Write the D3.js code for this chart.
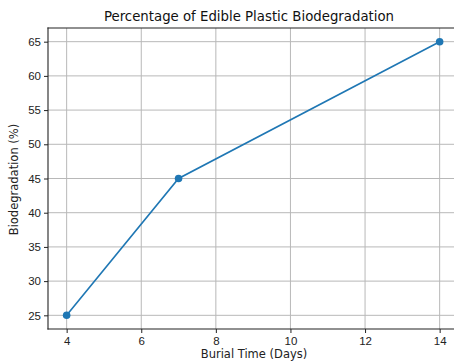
<!DOCTYPE html>
<html>
<head>
<meta charset="utf-8">
<script src="https://cdn.jsdelivr.net/npm/d3@7"></script>
<style>
  body { margin: 0; background: #fff; }
  svg { display: block; font-family: "DejaVu Sans", sans-serif; }
  .tick text { font-size: 11.5px; fill: #222; }
  .title { font-size: 13.3px; fill: #111; }
  .axis-title { font-size: 11.5px; fill: #222; }
</style>
</head>
<body>
<svg id="chart" width="454" height="363"></svg>
<script>
// data
const days = [4, 7, 14];
const biodeg = [25, 45, 65];
const xTicks = [4, 6, 8, 10, 12, 14];
const yTicks = [25, 30, 35, 40, 45, 50, 55, 60, 65];

const width = 454, height = 363;
const padding = { left: 48, top: 28, bottom: 34 };
// plot runs past the right edge, as in the cropped original
const innerWidth = 410.3;
const innerHeight = height - padding.top - padding.bottom;
const visibleRight = width - padding.left; // where the picture is cut

const svg = d3.select("#chart");
const g = svg.append("g")
    .attr("transform", `translate(${padding.left},${padding.top})`);

const x = d3.scaleLinear().domain([3.5, 14.5]).range([0, innerWidth]);
const y = d3.scaleLinear().domain([23, 67]).range([innerHeight, 0]);

// grid
g.append("g").selectAll("line").data(xTicks).enter().append("line")
    .attr("x1", d => x(d)).attr("x2", d => x(d))
    .attr("y1", 0).attr("y2", innerHeight)
    .attr("stroke", "#b8b8b8").attr("stroke-width", 1);
g.append("g").selectAll("line").data(yTicks).enter().append("line")
    .attr("y1", d => y(d)).attr("y2", d => y(d))
    .attr("x1", 0).attr("x2", visibleRight)
    .attr("stroke", "#b8b8b8").attr("stroke-width", 1);

// axes
const xAxis = d3.axisBottom(x).tickValues(xTicks).tickSize(4).tickPadding(4);
const yAxis = d3.axisLeft(y).tickValues(yTicks).tickSize(4).tickPadding(3);

const gx = g.append("g").attr("transform", `translate(0,${innerHeight})`).call(xAxis);
const gy = g.append("g").call(yAxis);
[gx, gy].forEach(a => {
    a.select(".domain").remove();
    a.selectAll(".tick line").attr("stroke", "#222");
    a.selectAll(".tick text").attr("font-family", null).attr("font-size", null);
});

// frame (left, top, bottom; right side is off the picture)
const frame = [
    [0, 0, 0, innerHeight],
    [0, 0, visibleRight, 0],
    [0, innerHeight, visibleRight, innerHeight]
];
g.append("g").selectAll("line").data(frame).enter().append("line")
    .attr("x1", d => d[0]).attr("y1", d => d[1])
    .attr("x2", d => d[2]).attr("y2", d => d[3])
    .attr("stroke", "#222").attr("stroke-width", 1.1)
    .attr("stroke-linecap", "square");

// series
const pts = days.map((d, i) => ({ x: d, y: biodeg[i] }));
g.append("path")
    .datum(pts)
    .attr("fill", "none")
    .attr("stroke", "#1f77b4")
    .attr("stroke-width", 1.6)
    .attr("d", d3.line().x(d => x(d.x)).y(d => y(d.y)));
g.selectAll(".pt").data(pts).enter().append("circle")
    .attr("class", "pt")
    .attr("cx", d => x(d.x)).attr("cy", d => y(d.y))
    .attr("r", 3.8)
    .attr("fill", "#1f77b4");

// titles
svg.append("text")
    .attr("class", "title")
    .attr("x", 249).attr("y", 21)
    .attr("text-anchor", "middle")
    .text("Percentage of Edible Plastic Biodegradation");

svg.append("text")
    .attr("class", "axis-title")
    .attr("x", 254).attr("y", 358)
    .attr("text-anchor", "middle")
    .text("Burial Time (Days)");

svg.append("text")
    .attr("class", "axis-title")
    .attr("transform", `translate(18,${padding.top + innerHeight / 2 + 1})rotate(-90)`)
    .attr("text-anchor", "middle")
    .text("Biodegradation (%)");
</script>
</body>
</html>
